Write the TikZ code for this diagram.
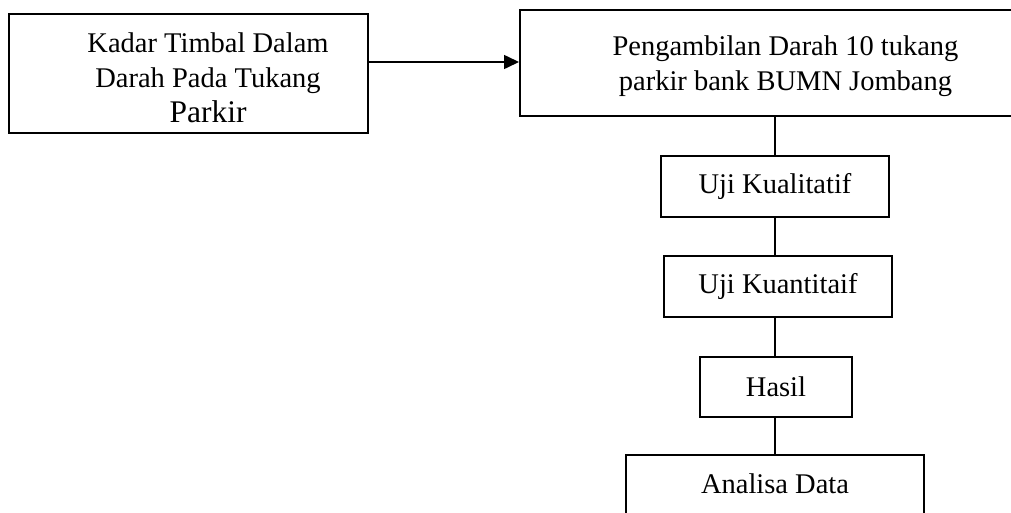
\documentclass[tikz,border=0pt]{standalone}
\usepackage{fontspec}
\setmainfont{Liberation Serif}
\usetikzlibrary{arrows.meta}
\begin{document}
\begin{tikzpicture}[x=1pt,y=-1pt,
  bigbox/.style={draw,line width=2pt,inner sep=0pt},
  smallbox/.style={draw,line width=1.4pt,inner sep=0pt,font=\fontsize{28.5}{35}\selectfont},
  lbl/.style={inner sep=0pt,align=center,font=\fontsize{28.5}{35}\selectfont},
  conn/.style={line width=1.4pt},
  arr/.style={line width=1.6pt,-{Triangle[length=15pt,width=14pt]}}]
\clip (0,0) rectangle (1011,512);
% boxes
\node[bigbox,minimum width=359pt,minimum height=119pt] (b1) at (188.5,73.5) {};
\node[lbl,anchor=north] (t1) at (208,32.5) {Kadar Timbal Dalam\\Darah Pada Tukang\\{\fontsize{31.5}{35}\selectfont Parkir}};
\node[bigbox,minimum width=530pt,minimum height=106pt] (b2) at (785,63) {};
\node[lbl,anchor=north] (t2) at (785.5,35.5) {Pengambilan Darah 10 tukang\\parkir bank BUMN Jombang};
\node[smallbox,minimum width=228pt,minimum height=61pt] (b3) at (775,186.5) {Uji Kualitatif};
\node[smallbox,minimum width=228pt,minimum height=61pt] (b4) at (778,286.5) {Uji Kuantitaif};
\node[smallbox,minimum width=152pt,minimum height=60pt] (b5) at (776,387) {Hasil};
\node[smallbox,minimum width=298pt,minimum height=100pt] (b6) at (775,505) {};
\node[lbl,anchor=base] (t6) at (775,493) {Analisa Data};
% connectors
\draw[arr] (b1.east |- 0,62) -- (b2.west |- 0,62);
\draw[conn] (b2.south -| b3.north) -- (b3.north);
\draw[conn] (b3.south) -- (b3.south |- b4.north);
\draw[conn] (b3.south |- b4.south) -- (b3.south |- b5.north);
\draw[conn] (b3.south |- b5.south) -- (b3.south |- b6.north);
\end{tikzpicture}
\end{document}
